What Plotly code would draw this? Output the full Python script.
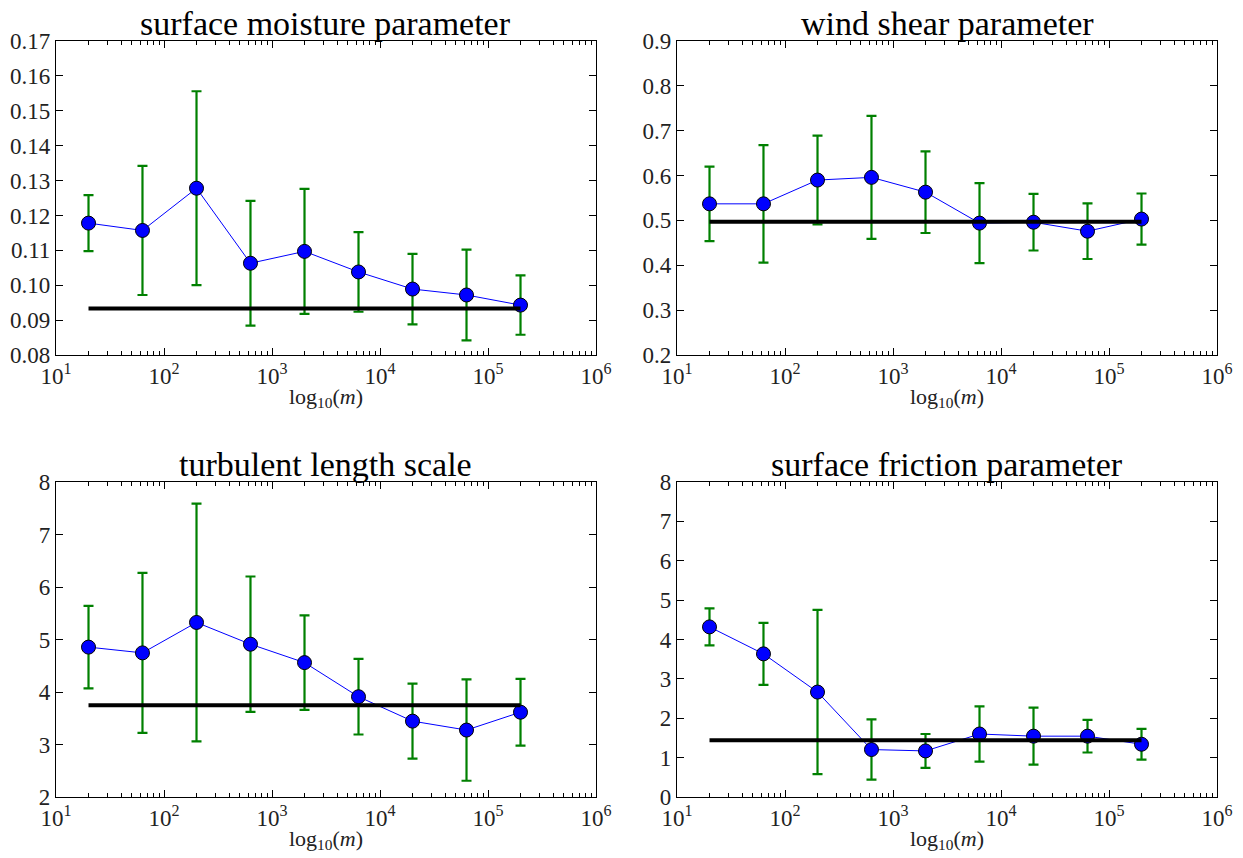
import plotly.graph_objects as go
from plotly.subplots import make_subplots

# ---- data ----
m_values = [20, 63.2, 200, 632, 2000, 6325, 20000, 63246, 200000]

titles = ["surface moisture parameter", "wind shear parameter",
          "turbulent length scale", "surface friction parameter"]

moisture_mean = [0.1178, 0.1157, 0.1278, 0.1063, 0.1097, 0.1038, 0.0989, 0.0972, 0.0943]
moisture_err = [0.0080, 0.0185, 0.0278, 0.0179, 0.0179, 0.0114, 0.0101, 0.0130, 0.0085]
moisture_ref = 0.0933

shear_mean = [0.537, 0.537, 0.590, 0.596, 0.563, 0.494, 0.496, 0.476, 0.503]
shear_err = [0.083, 0.131, 0.099, 0.137, 0.091, 0.089, 0.063, 0.062, 0.057]
shear_ref = 0.497

length_mean = [4.855, 4.745, 5.325, 4.91, 4.56, 3.91, 3.445, 3.275, 3.615]
length_err = [0.785, 1.525, 2.265, 1.29, 0.90, 0.72, 0.715, 0.965, 0.635]
length_ref = 3.75

friction_mean = [4.32, 3.635, 2.665, 1.205, 1.17, 1.60, 1.545, 1.545, 1.34]
friction_err = [0.47, 0.785, 2.085, 0.765, 0.43, 0.70, 0.725, 0.415, 0.39]
friction_ref = 1.44

y_ranges = [[0.08, 0.17], [0.2, 0.9], [2, 8], [0, 8]]
y_ticks = [
    [0.08, 0.09, 0.10, 0.11, 0.12, 0.13, 0.14, 0.15, 0.16, 0.17],
    [0.2, 0.3, 0.4, 0.5, 0.6, 0.7, 0.8, 0.9],
    [2, 3, 4, 5, 6, 7, 8],
    [0, 1, 2, 3, 4, 5, 6, 7, 8],
]
y_ticktext = [
    ["0.08", "0.09", "0.10", "0.11", "0.12", "0.13", "0.14", "0.15", "0.16", "0.17"],
    ["0.2", "0.3", "0.4", "0.5", "0.6", "0.7", "0.8", "0.9"],
    ["2", "3", "4", "5", "6", "7", "8"],
    ["0", "1", "2", "3", "4", "5", "6", "7", "8"],
]
x_tickvals = [10, 100, 1000, 10000, 100000, 1000000]
x_ticktext = ["10<sup>1</sup>", "10<sup>2</sup>", "10<sup>3</sup>",
              "10<sup>4</sup>", "10<sup>5</sup>", "10<sup>6</sup>"]
x_minor = [k * 10 ** e for e in range(1, 6) for k in range(2, 10)]

means = [moisture_mean, shear_mean, length_mean, friction_mean]
errs = [moisture_err, shear_err, length_err, friction_err]
refs = [moisture_ref, shear_ref, length_ref, friction_ref]

FONT = "Liberation Serif"
W, H, OFF = 1235, 850, 8   # page body margin offsets the figure by 8px

fig = make_subplots(rows=2, cols=2)

positions = [(1, 1), (1, 2), (2, 1), (2, 2)]
for i, (r, c) in enumerate(positions):
    fig.add_trace(go.Scatter(
        x=m_values, y=means[i], mode="lines+markers",
        line=dict(color="#0000ff", width=1),
        marker=dict(size=14, color="#0000ff", line=dict(color="black", width=1)),
        error_y=dict(type="data", array=errs[i], visible=True,
                     color="#008000", thickness=2.2, width=5),
        showlegend=False, hoverinfo="skip"), row=r, col=c)
    fig.add_trace(go.Scatter(
        x=[m_values[0], m_values[-1]], y=[refs[i], refs[i]], mode="lines",
        line=dict(color="black", width=4),
        showlegend=False, hoverinfo="skip"), row=r, col=c)


def xd(px):
    return (px - OFF) / W


def yd(px):
    return (OFF + H - px) / H


xdoms = [[xd(56), xd(596)], [xd(677), xd(1217)]]
ydoms = [[yd(355), yd(41)], [yd(797), yd(482)]]
title_y = [yd(23), yd(464)]

axis_common = dict(showline=True, linecolor="black", linewidth=1.2, mirror="allticks",
                   ticks="inside", tickcolor="black", showgrid=False, zeroline=False,
                   automargin=False,
                   tickfont=dict(family=FONT, size=23, color="#222"))

for i, (r, c) in enumerate(positions):
    idx = "" if i == 0 else str(i + 1)
    fig.layout["xaxis" + idx].update(
        type="log", range=[1, 6], domain=xdoms[c - 1],
        tickvals=x_tickvals, ticktext=x_ticktext, ticklen=7,
        minor=dict(tickvals=x_minor, ticks="inside", ticklen=3.5, tickcolor="black"),
        title=dict(text="log<sub>10</sub>(<i>m</i>)", font=dict(family=FONT, size=22, color="#222"),
                   standoff=0),
        **axis_common)
    fig.layout["yaxis" + idx].update(
        range=y_ranges[i], domain=ydoms[r - 1],
        tickvals=y_ticks[i], ticktext=y_ticktext[i], ticklen=7,
        **axis_common)
    cx = (xdoms[c - 1][0] + xdoms[c - 1][1]) / 2
    fig.add_annotation(text=titles[i], x=cx, y=title_y[r - 1], xref="paper", yref="paper",
                       xanchor="center", yanchor="middle", showarrow=False,
                       font=dict(family=FONT, size=34, color="black"))

fig.update_layout(width=W, height=H, margin=dict(l=0, r=0, t=0, b=0),
                  paper_bgcolor="white", plot_bgcolor="white",
                  font=dict(family=FONT))

fig.write_html("out.html")
